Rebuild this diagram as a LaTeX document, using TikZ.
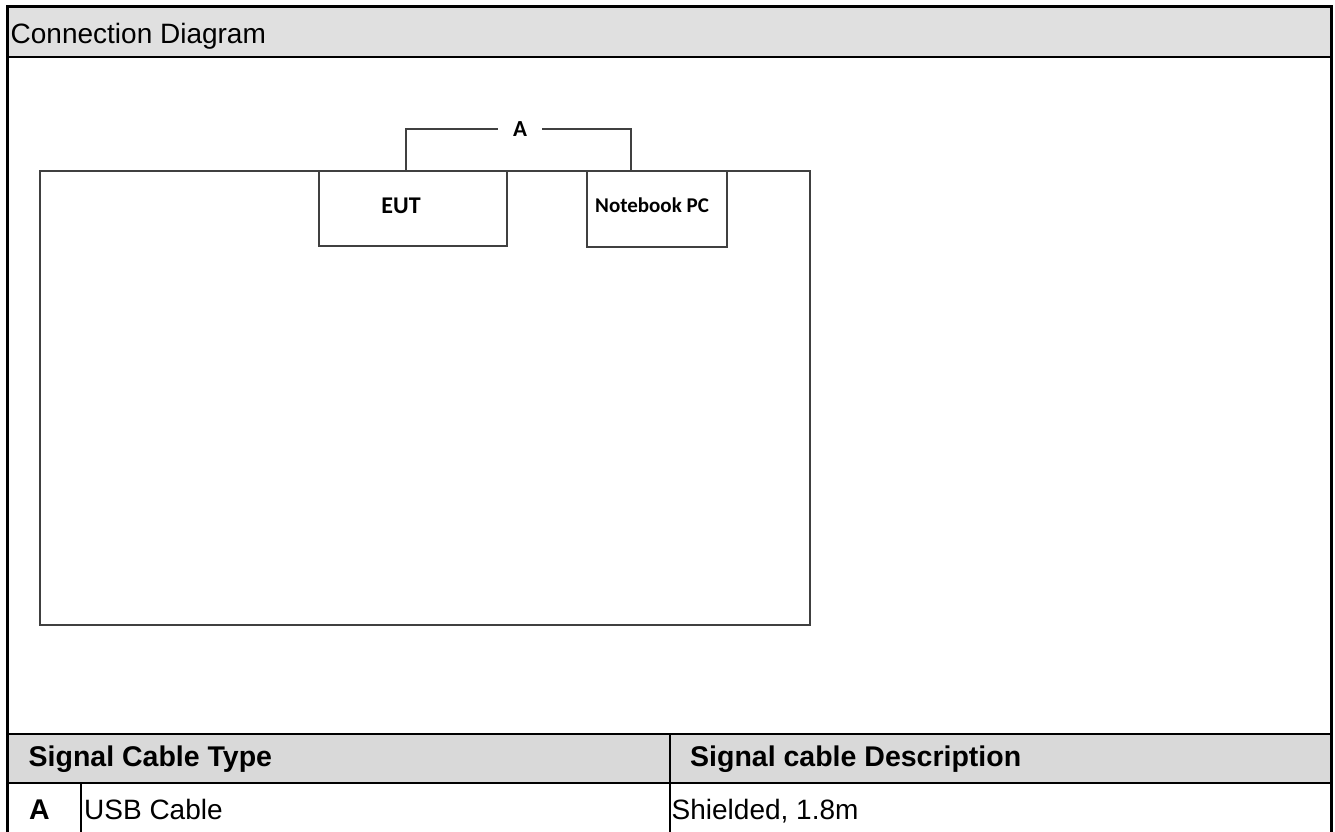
\documentclass[tikz,border=0pt]{standalone}
\usepackage{fontspec}
\setmainfont{Liberation Sans}
\newfontfamily\calfont{Carlito}
\usetikzlibrary{positioning}
\definecolor{headgray}{HTML}{E0E0E0}
\definecolor{tabgray}{HTML}{D9D9D9}
\definecolor{linegray}{HTML}{404040}
\tikzset{
  frame/.style={line width=3pt,black},
  rule/.style={line width=2.5pt,black},
  thinrule/.style={line width=2pt,black},
  devbox/.style={rectangle,draw=linegray,line width=1.6pt,inner sep=0pt},
  cable/.style={draw=linegray,line width=1.5pt},
  devtext/.style={font=\calfont\bfseries\fontsize{21}{25}\selectfont,inner sep=0pt,anchor=base},
  bigdevtext/.style={devtext,font=\calfont\bfseries\fontsize{24}{28}\selectfont},
  cablelabel/.style={font=\calfont\bfseries\fontsize{23}{27}\selectfont,inner xsep=15pt,inner ysep=0pt},
  tabtext/.style={font=\fontsize{28}{33}\selectfont,inner sep=0pt,anchor=base west},
  tabhead/.style={tabtext,font=\bfseries\fontsize{28.5}{33}\selectfont}
}
\begin{document}
\begin{tikzpicture}[x=1pt,y=-1pt]
    \useasboundingbox (0,0) rectangle (1335,832);
    % table background and rules
    \fill[headgray] (9,8) rectangle (1330,57);
    \fill[tabgray] (9,734) rectangle (1330,783);
    \draw[frame] (7.5,845) -- (7.5,6.5) -- (1331.5,6.5) -- (1331.5,845);
    \draw[rule] (7.5,57) -- (1331.5,57);
    \draw[rule] (7.5,734) -- (1331.5,734);
    \draw[thinrule] (7.5,783) -- (1331.5,783);
    \draw[thinrule] (670,734) -- (670,845);
    \draw[thinrule] (81,783) -- (81,845);

    \node at (10.5,43.5) [tabtext] (title) {Connection Diagram};
    \node at (28.5,766) [tabhead] (typehead) {Signal Cable Type};
    \node at (690,766) [tabhead] (deschead) {Signal cable Description};
    \node at (29,819) [tabhead] (cableid) {A};
    \node at (84,819) [tabtext] (cabletype) {USB Cable};
    \node at (671.5,819) [tabtext] (cabledesc) {Shielded, 1.8m};

    % test setup
    \node at (425,398) [devbox, minimum width=770pt, minimum height=454pt] (room) {};
    \node at (413,208.5) [devbox, minimum width=188pt, minimum height=75pt] (eut) {};
    \node at (657,209) [devbox, minimum width=140pt, minimum height=76pt] (nbpc) {};
    \node at (401,213) [bigdevtext] (euttext) {EUT};
    \node at (652,212) [devtext] (nbpctext) {Notebook PC};

    \node at (520,129) [cablelabel] (cableA) {A};
    \draw[cable] ([xshift=-7pt]eut.north) |- (cableA.west);
    \draw[cable] ([xshift=-26pt]nbpc.north) |- (cableA.east);
\end{tikzpicture}
\end{document}
